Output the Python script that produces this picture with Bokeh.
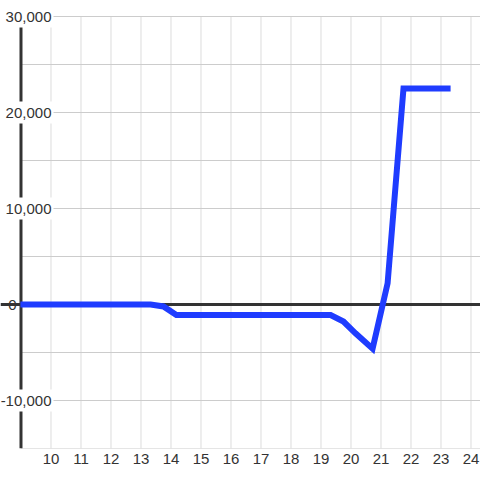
from bokeh.plotting import figure
from bokeh.models import FixedTicker, Span, Grid, ColumnDataSource
from bokeh.core.properties import value
from bokeh.embed import file_html
from bokeh.resources import INLINE

# data
xs = [8.98, 13.32, 13.75, 14.18, 19.32, 19.75, 20.15, 20.72, 21.22, 21.75, 23.32]
ys = [0, 0, -200, -1100, -1100, -1770, -3000, -4600, 2200, 22500, 22500]

x_ticks = list(range(10, 25))
y_grid_ticks = [-15000, -10000, -5000, 0, 5000, 10000, 15000, 20000, 25000, 30000]
y_label_values = [30000, 20000, 10000, -10000]
y_label_texts = ["30,000", "20,000", "10,000", "-10,000"]
zero_label = "0"

TEXT = "#333333"
FONT = "Liberation Sans"
X0, X1 = 8.317, 24.317   # frame covers the full 480px width
Y0, Y1 = -15000, 31667
PX = (X1 - X0) / 480.0    # data units per pixel (x)
PY = (Y1 - Y0) / 448.0    # data units per pixel (y)

p = figure(width=480, height=480, output_backend="svg", toolbar_location=None,
           x_range=(X0, X1), y_range=(Y0, Y1),
           y_axis_location=None, min_border_left=0, min_border_right=0,
           min_border_top=0, min_border_bottom=32)
p.outline_line_color = None
p.background_fill_color = "white"
p.border_fill_color = "white"
p.center = [r for r in p.center if not isinstance(r, Grid)]

# vertical grid lines at the x ticks, up to 30,000
p.segment(x0=x_ticks, y0=[Y0] * len(x_ticks), x1=x_ticks, y1=[y_grid_ticks[-1]] * len(x_ticks),
          line_color="#dddddd", line_width=1, level="underlay")
# horizontal solid grid lines, right of the axis
p.segment(x0=[9.0] * len(y_grid_ticks), y0=y_grid_ticks, x1=[X1] * len(y_grid_ticks),
          y1=y_grid_ticks, line_color="#cccccc", line_width=1, level="underlay")

# x axis
ax = p.xaxis[0]
ax.ticker = FixedTicker(ticks=x_ticks)
ax.axis_line_color = None
ax.major_tick_line_color = None
ax.minor_tick_line_color = None
ax.major_tick_out = 0
ax.major_tick_in = 0
ax.major_label_text_font = FONT
ax.major_label_text_font_size = "15px"
ax.major_label_text_color = TEXT
ax.major_label_standoff = 5

# zero line and left axis line
p.add_layout(Span(location=0, dimension="width", line_color=TEXT, line_width=3, level="underlay"))
p.segment(x0=[9.0], y0=[Y0], x1=[9.0], y1=[y_grid_ticks[-1]], line_color=TEXT,
          line_width=3, level="underlay")

# data line
p.line(xs, ys, line_color="#1f3cff", line_width=6, line_join="miter")

# white boxes behind the y labels
n = len(y_label_values)
p.quad(left=[X0 + 4 * PX] * n, right=[X0 + 53 * PX] * n,
       bottom=[v - 11 * PY for v in y_label_values], top=[v + 11 * PY for v in y_label_values],
       fill_color="white", line_color=None)
src = ColumnDataSource(dict(x=[X0 + 51 * PX] * n, y=y_label_values, t=y_label_texts))
p.text(x="x", y="y", text="t", source=src, text_align="right", text_baseline="middle",
       text_font=value(FONT), text_font_size="15px", text_color=TEXT)
p.text(x=[X0 + 16 * PX], y=[0], text=[zero_label], text_align="right", text_baseline="middle",
       text_font=value(FONT), text_font_size="15px", text_color=TEXT)

open("out.html", "w").write(file_html(p, INLINE))
